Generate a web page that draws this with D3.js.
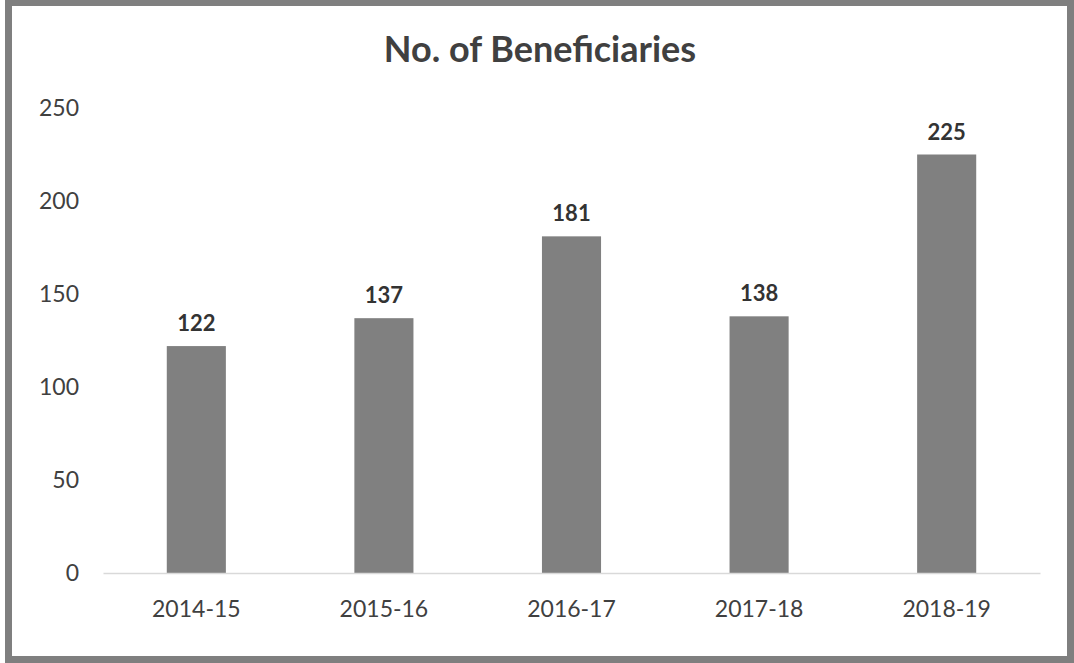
<!DOCTYPE html>
<html>
<head>
<meta charset="utf-8">
<script src="https://cdn.jsdelivr.net/npm/d3@7"></script>
<style>
  body { margin: 0; background: #fff; }
  svg text { font-family: Lato, "Open Sans", sans-serif; }
</style>
</head>
<body>
<div class="main"></div>
<script>
////Global Variables
const width = 1074;
const height = 663;

const years = ['2014-15', '2015-16', '2016-17', '2017-18', '2018-19'];
const beneficiaries = [122, 137, 181, 138, 225];
const yTicks = [0, 50, 100, 150, 200, 250];

const margin = { top: 108, right: 34, bottom: 90, left: 103 };

const svg = d3.select('.main').append('svg')
  .attr('width', width)
  .attr('height', height);

// outer frame
svg.append('rect')
  .attr('x', 8.5)
  .attr('y', 2.5)
  .attr('width', width - 12)
  .attr('height', height - 6)
  .attr('fill', '#fff')
  .attr('stroke', '#7f7f7f')
  .attr('stroke-width', 7);

svg.append('text')
  .attr('x', 540)
  .attr('y', 62)
  .attr('text-anchor', 'middle')
  .attr('font-size', 36)
  .attr('font-weight', 'bold')
  .attr('fill', '#404040')
  .text('No. of Beneficiaries');

const xScale = d3.scaleBand()
  .domain(years)
  .range([margin.left, width - margin.right])
  .paddingInner(0.685)
  .paddingOuter(0.34);

const yScale = d3.scaleLinear()
  .domain([0, 250])
  .range([height - margin.bottom, margin.top]);

const yAxis = d3.axisLeft(yScale)
  .tickValues(yTicks)
  .tickSize(0)
  .tickPadding(24);

svg.append('g')
  .attr('id', 'y-axis')
  .attr('transform', `translate(${margin.left}, 0)`)
  .call(yAxis)
  .call(g => g.select('.domain').remove())
  .selectAll('text')
  .attr('font-size', 23)
  .attr('font-family', 'Lato, sans-serif')
  .attr('fill', '#404040');

svg.selectAll('rect.bar')
  .data(beneficiaries)
  .enter()
  .append('rect')
  .attr('class', 'bar')
  .attr('x', (d, i) => xScale(years[i]))
  .attr('y', d => yScale(d))
  .attr('width', xScale.bandwidth())
  .attr('height', d => yScale(0) - yScale(d))
  .attr('fill', '#808080');

const xAxis = d3.axisBottom(xScale)
  .tickSize(0)
  .tickPadding(28);

svg.append('g')
  .attr('id', 'x-axis')
  .attr('transform', `translate(0, ${yScale(0)})`)
  .call(xAxis)
  .call(g => g.select('.domain').attr('stroke', '#d9d9d9').attr('stroke-width', 1.5))
  .selectAll('text')
  .attr('font-size', 23)
  .attr('font-family', 'Lato, sans-serif')
  .attr('fill', '#404040');

svg.selectAll('text.value')
  .data(beneficiaries)
  .enter()
  .append('text')
  .attr('class', 'value')
  .attr('x', (d, i) => xScale(years[i]) + xScale.bandwidth() / 2)
  .attr('y', d => yScale(d) - 15)
  .attr('text-anchor', 'middle')
  .attr('font-size', 22)
  .attr('font-weight', 'bold')
  .attr('fill', '#333')
  .text(d => d);
</script>
</body>
</html>
